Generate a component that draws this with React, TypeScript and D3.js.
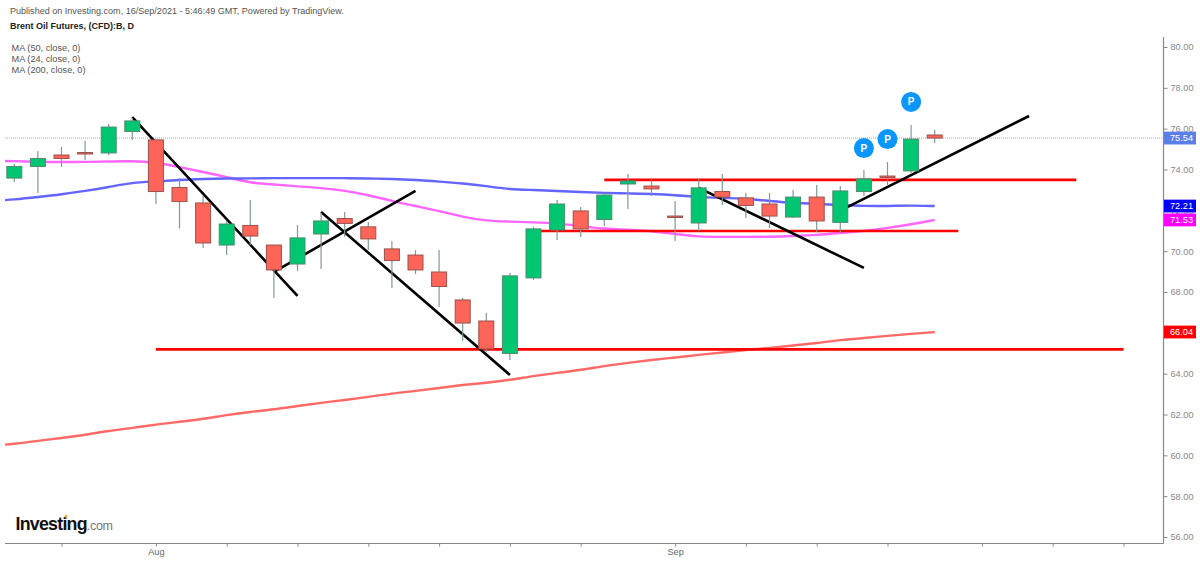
import * as d3 from "d3";
import { useEffect, useRef } from "react";

const width = 1200;
const height = 561;

// Daily candles, first session is 23 Jul 2021
const sessions = [
  "Jul 23", "Jul 26", "Jul 27", "Jul 28", "Jul 29", "Jul 30", "Aug 2", "Aug 3", "Aug 4", "Aug 5",
  "Aug 6", "Aug 9", "Aug 10", "Aug 11", "Aug 12", "Aug 13", "Aug 16", "Aug 17", "Aug 18", "Aug 19",
  "Aug 20", "Aug 23", "Aug 24", "Aug 25", "Aug 26", "Aug 27", "Aug 30", "Aug 31", "Sep 1", "Sep 2",
  "Sep 3", "Sep 6", "Sep 7", "Sep 8", "Sep 9", "Sep 10", "Sep 13", "Sep 14", "Sep 15", "Sep 16",
];
const opens = [
  73.58, 74.15, 74.71, 74.83, 74.81, 75.86, 75.45, 73.12, 72.36, 70.3,
  71.26, 70.3, 69.37, 70.84, 71.6, 71.19, 70.11, 69.81, 68.98, 67.61,
  66.58, 64.99, 68.69, 71.04, 71.97, 71.55, 73.29, 73.19, 71.72, 71.38,
  72.92, 72.61, 72.31, 71.67, 72.65, 71.41, 72.92, 73.68, 73.93, 75.69,
];
const highs = [
  74.27, 74.91, 75.1, 75.4, 76.23, 76.52, 75.45, 73.58, 72.7, 71.48,
  72.51, 70.3, 71.28, 71.87, 71.92, 71.43, 70.5, 70.06, 70.06, 67.71,
  66.97, 68.93, 71.19, 72.51, 72.16, 72.85, 73.78, 73.58, 72.46, 73.54,
  73.78, 72.85, 72.85, 73.0, 73.24, 73.19, 73.98, 74.37, 76.18, 75.94,
];
const lows = [
  73.39, 72.85, 74.12, 74.47, 74.71, 75.45, 72.31, 71.11, 70.16, 69.81,
  70.3, 67.71, 69.03, 69.13, 70.7, 70.06, 68.2, 68.88, 67.27, 65.6,
  65.06, 64.67, 68.59, 70.55, 70.7, 71.23, 72.07, 72.7, 70.5, 70.99,
  72.26, 71.63, 71.14, 71.63, 70.94, 70.94, 72.7, 73.19, 73.83, 75.3,
];
const closes = [
  74.15, 74.54, 74.54, 74.76, 76.08, 76.38, 72.92, 72.43, 70.4, 71.33,
  70.74, 69.08, 70.65, 71.48, 71.36, 70.6, 69.54, 69.08, 68.27, 66.48,
  65.21, 68.79, 71.09, 72.31, 71.09, 72.75, 73.44, 73.05, 71.65, 73.1,
  72.65, 72.24, 71.72, 72.65, 71.48, 72.95, 73.54, 73.61, 75.49, 75.54,
];

// Moving averages, one value before the first session and then one per session
const ma50 = [
  72.45, 72.53, 72.65, 72.78, 72.95, 73.14, 73.36, 73.41, 73.49, 73.54, 73.56,
  73.56, 73.58, 73.58, 73.58, 73.58, 73.56, 73.54, 73.49, 73.41, 73.32,
  73.19, 73.02, 73.0, 72.95, 72.9, 72.85, 72.83, 72.8, 72.75, 72.65,
  72.61, 72.56, 72.46, 72.36, 72.31, 72.26, 72.21, 72.21, 72.24, 72.21,
];
const ma24 = [
  74.42, 74.42, 74.37, 74.37, 74.37, 74.39, 74.42, 74.34, 74.12, 73.88, 73.63,
  73.34, 73.27, 73.17, 73.1, 72.97, 72.75, 72.46, 72.21, 71.97, 71.68,
  71.48, 71.45, 71.41, 71.36, 71.23, 71.09, 71.06, 70.99, 70.84, 70.7,
  70.7, 70.7, 70.7, 70.74, 70.79, 70.89, 70.99, 71.14, 71.31, 71.53,
];
const ma200 = [
  60.46, 60.56, 60.71, 60.85, 61.0, 61.2, 61.34, 61.51, 61.64, 61.78, 61.98,
  62.13, 62.25, 62.42, 62.57, 62.71, 62.86, 63.03, 63.15, 63.3, 63.45,
  63.55, 63.69, 63.89, 64.04, 64.18, 64.38, 64.53, 64.67, 64.79, 64.92,
  65.04, 65.16, 65.26, 65.38, 65.5, 65.65, 65.75, 65.85, 65.95, 66.04,
];

// Hand drawn lines: [session index, price, session index, price]
const blackLines = [
  [5, 76.57, 12, 67.81],
  [11, 68.98, 17, 72.95],
  [13, 71.92, 21, 63.94],
  [29, 73.1, 36, 69.18],
  [35, 71.99, 43, 76.62],
];
const redLines = [
  [6, 65.19, 47, 65.19],
  [22, 70.99, 40, 70.99],
  [25, 73.49, 45, 73.49],
];
const pinIndex = [36, 37, 38];
const pinPrice = [75.05, 75.49, 77.31];

const yTicks = [56, 58, 60, 62, 64, 66, 68, 70, 72, 74, 76, 78, 80];
const xTicks = [2, 6, 9, 12, 15, 18, 21, 24, 28, 31, 34, 37, 41, 44, 47];
const xTickLabels: Record<number, string> = { 6: "Aug", 28: "Sep" };

const priceTags = [
  { value: 75.54, color: "#5a7fe8" },
  { value: 66.04, color: "#ff0000" },
  { value: 72.21, color: "#0000ff" },
  { value: 71.53, color: "#ff00ff" },
];

const headerLines = ["MA (50, close, 0)", "MA (24, close, 0)", "MA (200, close, 0)"];

export default function App() {
  const svgRef = useRef<SVGSVGElement | null>(null);

  useEffect(() => {
    const svg = d3.select(svgRef.current);
    svg.selectAll("*").remove();

    const font = "'Liberation Sans', Arial, sans-serif";
    const paneLeft = 5;
    const paneRight = 1163.5;
    const paneBottom = 543.5;
    const paneTop = 37;

    const x = d3.scaleLinear().domain([0, 47]).range([14.3, 1123.5]);
    const y = d3.scaleLinear().domain([56, 80]).range([537, 47]);

    svg.append("rect").attr("width", width).attr("height", height).attr("fill", "#fff");

    svg
      .append("clipPath")
      .attr("id", "pane")
      .append("rect")
      .attr("x", paneLeft)
      .attr("y", paneTop)
      .attr("width", paneRight - paneLeft)
      .attr("height", paneBottom - paneTop);

    // Header
    svg
      .append("text")
      .attr("x", 10)
      .attr("y", 14)
      .attr("font-family", font)
      .attr("font-size", 9.05)
      .attr("fill", "#555")
      .text("Published on Investing.com, 16/Sep/2021 - 5:46:49 GMT, Powered by TradingView.");
    svg
      .append("text")
      .attr("x", 10)
      .attr("y", 29)
      .attr("font-family", font)
      .attr("font-size", 9)
      .attr("font-weight", "bold")
      .attr("fill", "#222")
      .text("Brent Oil Futures, (CFD):B, D");
    headerLines.forEach((t, i) => {
      svg
        .append("text")
        .attr("x", 11.5)
        .attr("y", 51 + i * 11)
        .attr("font-family", font)
        .attr("font-size", 9.2)
        .attr("fill", "#555")
        .text(t);
    });

    const plot = svg.append("g").attr("clip-path", "url(#pane)");

    // Last price line
    plot
      .append("line")
      .attr("x1", paneLeft)
      .attr("x2", paneRight)
      .attr("y1", y(75.54))
      .attr("y2", y(75.54))
      .attr("stroke", "#8fa4ee")
      .attr("stroke-width", 1)
      .attr("stroke-dasharray", "1 1");

    // Moving averages
    const maLine = d3
      .line<number>()
      .x((d, i) => x(i - 1))
      .y((d) => y(d))
      .curve(d3.curveBasis);
    [
      { values: ma200, color: "#ff6a66" },
      { values: ma24, color: "#ff66ff" },
      { values: ma50, color: "#6464ff" },
    ].forEach((ma) => {
      plot
        .append("path")
        .datum(ma.values)
        .attr("fill", "none")
        .attr("stroke", ma.color)
        .attr("stroke-width", 2.4)
        .attr("d", maLine);
    });

    // Hand drawn lines
    const drawSegments = (segments: number[][], color: string, w: number) => {
      plot
        .selectAll(null)
        .data(segments)
        .enter()
        .append("line")
        .attr("x1", (d) => x(d[0]))
        .attr("y1", (d) => y(d[1]))
        .attr("x2", (d) => x(d[2]))
        .attr("y2", (d) => y(d[3]))
        .attr("stroke", color)
        .attr("stroke-width", w);
    };
    drawSegments(redLines, "#ff0000", 2.6);
    drawSegments(blackLines, "#000", 2.6);

    // Candles on top of the lines
    const candleWidth = 15;
    const candles = plot
      .selectAll("g.candle")
      .data(sessions.map((s, i) => i))
      .enter()
      .append("g")
      .attr("class", "candle");
    candles
      .append("line")
      .attr("x1", (i) => x(i))
      .attr("x2", (i) => x(i))
      .attr("y1", (i) => y(highs[i]))
      .attr("y2", (i) => y(lows[i]))
      .attr("stroke", "#7f9c90")
      .attr("stroke-width", 1.2);
    candles
      .append("rect")
      .attr("x", (i) => x(i) - candleWidth / 2)
      .attr("width", candleWidth)
      .attr("y", (i) => y(Math.max(opens[i], closes[i])))
      .attr("height", (i) => Math.abs(y(opens[i]) - y(closes[i])))
      .attr("fill", (i) => (closes[i] >= opens[i] ? "#00c571" : "#ff6459"))
      .attr("stroke", (i) => (closes[i] >= opens[i] ? "#4f8c72" : "#9a524c"))
      .attr("stroke-width", 1);

    // Pins
    const pins = plot
      .selectAll("g.pin")
      .data(pinIndex)
      .enter()
      .append("g")
      .attr("class", "pin");
    pins
      .append("circle")
      .attr("cx", (d) => x(d))
      .attr("cy", (d, i) => y(pinPrice[i]))
      .attr("r", 10)
      .attr("fill", "#0a96ff");
    pins
      .append("text")
      .attr("x", (d) => x(d))
      .attr("y", (d, i) => y(pinPrice[i]) + 3.5)
      .attr("text-anchor", "middle")
      .attr("font-family", font)
      .attr("font-size", 10)
      .attr("font-weight", "bold")
      .attr("fill", "#fff")
      .text("P");

    // Axes
    const yAxis = svg
      .append("g")
      .attr("transform", `translate(${paneRight},0)`)
      .call(
        d3
          .axisRight(y)
          .tickValues(yTicks)
          .tickFormat((d) => (d as number).toFixed(2))
          .tickSize(4)
          .tickPadding(3),
      );
    yAxis.select(".domain").attr("d", `M0,${paneTop}V${paneBottom}`).attr("stroke", "#888").attr("stroke-width", 1.2);
    yAxis.selectAll(".tick line").attr("stroke", "#888");
    yAxis
      .selectAll(".tick text")
      .attr("font-family", font)
      .attr("font-size", 9.2)
      .attr("fill", "#888");

    const xAxis = svg
      .append("g")
      .attr("transform", `translate(0,${paneBottom})`)
      .call(
        d3
          .axisBottom(x)
          .tickValues(xTicks)
          .tickFormat((d) => xTickLabels[d as number] ?? "")
          .tickSize(3)
          .tickPadding(2),
      );
    xAxis.select(".domain").attr("d", `M${paneLeft},0H${paneRight}`).attr("stroke", "#888").attr("stroke-width", 1.2);
    xAxis.selectAll(".tick line").attr("stroke", "#888");
    xAxis
      .selectAll(".tick text")
      .attr("font-family", font)
      .attr("font-size", 9.2)
      .attr("fill", "#666");

    // Price tags
    const tags = svg
      .selectAll("g.tag")
      .data(priceTags)
      .enter()
      .append("g")
      .attr("class", "tag");
    tags
      .append("rect")
      .attr("x", paneRight + 0.5)
      .attr("y", (d) => y(d.value) - 6.4)
      .attr("width", 32)
      .attr("height", 12.8)
      .attr("fill", (d) => d.color);
    tags
      .append("text")
      .attr("x", paneRight + 6.5)
      .attr("y", (d) => y(d.value) + 3.3)
      .attr("font-family", font)
      .attr("font-size", 9.2)
      .attr("fill", "#fff")
      .text((d) => d.value.toFixed(2));

    // Logo
    const logo = svg
      .append("text")
      .attr("x", 15.5)
      .attr("y", 529.5)
      .attr("font-family", font)
      .attr("font-size", 17.8)
      .attr("font-weight", "bold")
      .attr("letter-spacing", -0.75)
      .attr("fill", "#111");
    logo.append("tspan").text("Investing");
    logo
      .append("tspan")
      .attr("font-size", 12.5)
      .attr("font-weight", "normal")
      .attr("letter-spacing", -0.3)
      .attr("fill", "#777")
      .text(".com");
    svg.append("circle").attr("cx", 66).attr("cy", 516.5).attr("r", 1.4).attr("fill", "#f5a623");
  }, []);

  return (
    <svg
      ref={svgRef}
      width={width}
      height={height}
      style={{ position: "absolute", left: 0, top: 0 }}
    ></svg>
  );
}
